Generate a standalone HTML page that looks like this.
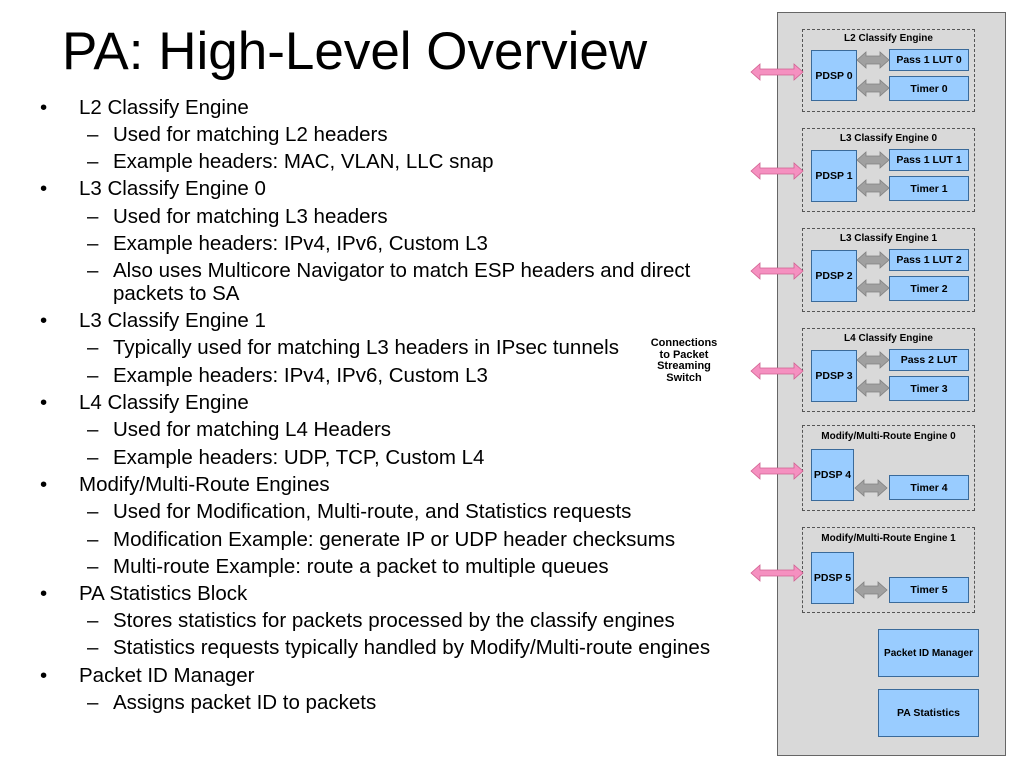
<!DOCTYPE html>
<html><head><style>
body{margin:0;width:1024px;height:768px;background:#fff;position:relative;overflow:hidden;font-family:"Liberation Sans",sans-serif}
.t{position:absolute;font-size:20.5px;color:#000;white-space:nowrap;line-height:22px}
.b{position:absolute;background:#99ccff;border:1px solid #3a6a9a;box-sizing:border-box;font:bold 10.5px "Liberation Sans",sans-serif;display:flex;align-items:center;justify-content:center;color:#000}
.d{position:absolute;left:802px;width:173px;border:1px dashed #555;box-sizing:border-box}
.dl{position:absolute;left:802px;width:173px;text-align:center;font:bold 10px "Liberation Sans",sans-serif}
</style></head><body>
<div style="position:absolute;left:62px;top:20px;font-size:53px;line-height:64px;white-space:nowrap">PA: High-Level Overview</div>

<div class="t" style="left:40px;top:97px">•</div><div class="t" style="left:79px;top:97px">L2 Classify Engine</div>
<div class="t" style="left:87px;top:124px">–</div><div class="t" style="left:113px;top:124px">Used for matching L2 headers</div>
<div class="t" style="left:87px;top:151px">–</div><div class="t" style="left:113px;top:151px">Example headers: MAC, VLAN, LLC snap</div>
<div class="t" style="left:40px;top:178px">•</div><div class="t" style="left:79px;top:178px">L3 Classify Engine 0</div>
<div class="t" style="left:87px;top:206px">–</div><div class="t" style="left:113px;top:206px">Used for matching L3 headers</div>
<div class="t" style="left:87px;top:233px">–</div><div class="t" style="left:113px;top:233px">Example headers: IPv4, IPv6, Custom L3</div>
<div class="t" style="left:87px;top:260px">–</div><div class="t" style="left:113px;top:260px">Also uses Multicore Navigator to match ESP headers and direct</div>
<div class="t" style="left:113px;top:283px">packets to SA</div>
<div class="t" style="left:40px;top:310px">•</div><div class="t" style="left:79px;top:310px">L3 Classify Engine 1</div>
<div class="t" style="left:87px;top:337px">–</div><div class="t" style="left:113px;top:337px">Typically used for matching L3 headers in IPsec tunnels</div>
<div class="t" style="left:87px;top:365px">–</div><div class="t" style="left:113px;top:365px">Example headers: IPv4, IPv6, Custom L3</div>
<div class="t" style="left:40px;top:392px">•</div><div class="t" style="left:79px;top:392px">L4 Classify Engine</div>
<div class="t" style="left:87px;top:419px">–</div><div class="t" style="left:113px;top:419px">Used for matching L4 Headers</div>
<div class="t" style="left:87px;top:447px">–</div><div class="t" style="left:113px;top:447px">Example headers: UDP, TCP, Custom L4</div>
<div class="t" style="left:40px;top:474px">•</div><div class="t" style="left:79px;top:474px">Modify/Multi-Route Engines</div>
<div class="t" style="left:87px;top:501px">–</div><div class="t" style="left:113px;top:501px">Used for Modification, Multi-route, and Statistics requests</div>
<div class="t" style="left:87px;top:529px">–</div><div class="t" style="left:113px;top:529px">Modification Example: generate IP or UDP header checksums</div>
<div class="t" style="left:87px;top:556px">–</div><div class="t" style="left:113px;top:556px">Multi-route Example: route a packet to multiple queues</div>
<div class="t" style="left:40px;top:583px">•</div><div class="t" style="left:79px;top:583px">PA Statistics Block</div>
<div class="t" style="left:87px;top:610px">–</div><div class="t" style="left:113px;top:610px">Stores statistics for packets processed by the classify engines</div>
<div class="t" style="left:87px;top:637px">–</div><div class="t" style="left:113px;top:637px">Statistics requests typically handled by Modify/Multi-route engines</div>
<div class="t" style="left:40px;top:665px">•</div><div class="t" style="left:79px;top:665px">Packet ID Manager</div>
<div class="t" style="left:87px;top:692px">–</div><div class="t" style="left:113px;top:692px">Assigns packet ID to packets</div>

<div style="position:absolute;left:640px;top:338px;width:88px;text-align:center;font:bold 11px/11.5px 'Liberation Sans',sans-serif">Connections<br>to Packet<br>Streaming<br>Switch</div>

<div style="position:absolute;left:777px;top:12px;width:229px;height:744px;background:#d9d9d9;border:1px solid #666;box-sizing:border-box"></div>

<div class="d" style="top:29px;height:83px"></div><div class="dl" style="top:33px">L2 Classify Engine</div>
<div class="b" style="left:811px;top:50px;width:46px;height:51px">PDSP 0</div>
<div class="b" style="left:889px;top:49px;width:80px;height:22px">Pass 1 LUT 0</div>
<div class="b" style="left:889px;top:76px;width:80px;height:25px">Timer 0</div>

<div class="d" style="top:128px;height:84px"></div><div class="dl" style="top:133px">L3 Classify Engine 0</div>
<div class="b" style="left:811px;top:150px;width:46px;height:52px">PDSP 1</div>
<div class="b" style="left:889px;top:149px;width:80px;height:22px">Pass 1 LUT 1</div>
<div class="b" style="left:889px;top:176px;width:80px;height:25px">Timer 1</div>

<div class="d" style="top:228px;height:84px"></div><div class="dl" style="top:233px">L3 Classify Engine 1</div>
<div class="b" style="left:811px;top:250px;width:46px;height:52px">PDSP 2</div>
<div class="b" style="left:889px;top:249px;width:80px;height:22px">Pass 1 LUT 2</div>
<div class="b" style="left:889px;top:276px;width:80px;height:25px">Timer 2</div>

<div class="d" style="top:328px;height:84px"></div><div class="dl" style="top:333px">L4 Classify Engine</div>
<div class="b" style="left:811px;top:350px;width:46px;height:52px">PDSP 3</div>
<div class="b" style="left:889px;top:349px;width:80px;height:22px">Pass 2 LUT</div>
<div class="b" style="left:889px;top:376px;width:80px;height:25px">Timer 3</div>

<div class="d" style="top:425px;height:86px"></div><div class="dl" style="top:431px">Modify/Multi-Route Engine 0</div>
<div class="b" style="left:811px;top:449px;width:43px;height:52px">PDSP 4</div>
<div class="b" style="left:889px;top:475px;width:80px;height:25px">Timer 4</div>

<div class="d" style="top:527px;height:86px"></div><div class="dl" style="top:533px">Modify/Multi-Route Engine 1</div>
<div class="b" style="left:811px;top:552px;width:43px;height:52px">PDSP 5</div>
<div class="b" style="left:889px;top:577px;width:80px;height:26px">Timer 5</div>

<div class="b" style="left:878px;top:629px;width:101px;height:48px;font-size:10px">Packet ID Manager</div>
<div class="b" style="left:878px;top:689px;width:101px;height:48px">PA Statistics</div>

<svg width="1024" height="768" style="position:absolute;left:0;top:0">
<defs>
<g id="pk"><polygon points="0,0 9,-8 9,-3 43,-3 43,-8 52,0 43,8 43,3 9,3 9,8" fill="#f590c0" stroke="#d06090" stroke-width="0.8"/></g>
<g id="gy"><polygon points="0,0 9,-8 9,-4 23,-4 23,-8 32,0 23,8 23,4 9,4 9,8" fill="#a0a0a0" stroke="#808080" stroke-width="0.8"/></g>
</defs>
<use href="#pk" x="751" y="72"/><use href="#pk" x="751" y="171"/><use href="#pk" x="751" y="271"/>
<use href="#pk" x="751" y="371"/><use href="#pk" x="751" y="471"/><use href="#pk" x="751" y="573"/>
<use href="#gy" x="857" y="60"/><use href="#gy" x="857" y="88"/>
<use href="#gy" x="857" y="160"/><use href="#gy" x="857" y="188"/>
<use href="#gy" x="857" y="260"/><use href="#gy" x="857" y="288"/>
<use href="#gy" x="857" y="360"/><use href="#gy" x="857" y="388"/>
<use href="#gy" x="855" y="488"/><use href="#gy" x="855" y="590"/>
</svg>
</body></html>
